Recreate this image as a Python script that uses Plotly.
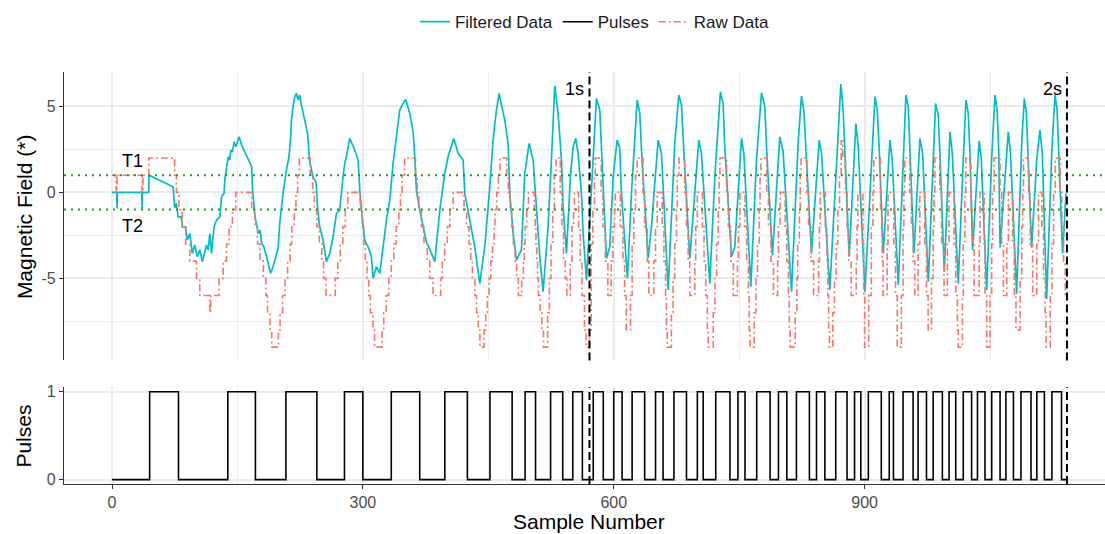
import plotly.graph_objects as go

# ---------------- data ----------------
# Filtered magnetometer signal (turning points, sample index / value)
filtered_sample = [
    0, 5.5, 6, 6.5, 35.5, 36, 36.5, 44, 44.3, 73, 75, 77, 79, 83, 84, 88, 90, 93, 96, 99,
    102, 105, 108, 113, 115, 117, 119, 122, 125, 129, 131, 134, 135, 137, 139, 141, 142, 144, 146, 148,
    152, 155, 167, 168, 171, 175, 177, 179, 181.5, 185, 189.5, 192.6, 198.6, 200.6, 204.5, 208.6, 211.7, 213.4, 214.6, 216.5,
    218.5, 220.5, 222.5, 224.5, 226.5, 234, 236, 240.5, 244, 246, 248.4, 252.4, 256.4, 260.4, 264.4, 268.4, 272.3, 276.3, 278.3, 280.3,
    284.3, 290.3, 294.3, 296.3, 298.3, 302.2, 306.2, 310.2, 312.2, 316.2, 320.2, 324.2, 328.2, 332.2, 336.1, 340.1, 344.1, 348.1, 351.3, 356.1,
    360.1, 362.1, 364, 368, 372, 376, 382, 386, 392, 397.9, 401.9, 405.9, 408.7, 413.9, 419.9, 421.9, 425.8, 429.8, 433.8, 439.8,
    445.8, 451.8, 455.7, 459.7, 462.9, 469.7, 473.7, 475.7, 479.7, 483.7, 489.6, 493.6, 498.8, 503.6, 507.6, 511.6, 515.5, 521.5, 525.5, 529.5,
    533.5, 537.5, 539.5, 543.5, 548.2, 551.4, 554.6, 557.4, 561.4, 563.4, 567.4, 573.4, 577.3, 579.3, 583.3, 585.3, 588.1, 591.3, 595.3, 599.3,
    604.1, 607.2, 609.2, 616.4, 621.2, 628, 631.2, 633.2, 641.1, 645.1, 653.1, 657.1, 665.1, 673, 677.8, 681, 683.8, 691, 701.7, 704.9,
    714.9, 720.9, 727.6, 730.8, 732.8, 740.8, 744.8, 752.8, 755.6, 763.9, 770.7, 776.7, 780.7, 782.7, 789.8, 798.6, 802.6, 812.6, 820.5, 824.5,
    827.3, 829.7, 836.5, 845.7, 848.5, 858.4, 866.4, 871.6, 874.4, 876.4, 881.6, 889.6, 892.4, 900.4, 908.4, 912.4, 915.2, 917.5, 922.3, 930.3,
    933.1, 940.3, 946.3, 949.4, 952.2, 954.2, 959, 966.2, 969.4, 976.2, 982.1, 984.9, 988.1, 990.1, 995.3, 1002.1, 1004.9, 1012, 1018, 1021.2,
    1024, 1026, 1029.2, 1037, 1039.5, 1046, 1052, 1055.9, 1058.5, 1060.5, 1062, 1069, 1071.8, 1074.5, 1081.8, 1088, 1091, 1093.5, 1095.5, 1099.7,
    1106, 1109.7, 1112.5, 1117.7, 1124, 1127.7, 1130.2, 1132.2, 1136.8, 1140.8,
]
filtered_value = [
    0, 0, -0.93, 0, 0, -0.93, 0, 0, 1.0, 0.33, -0.9, -0.64, -1.42, -1.42, -2.0, -2.0, -2.77, -2.4, -3.55, -3.06,
    -3.74, -3.35, -4.03, -3.06, -3.35, -2.4, -3.55, -2.0, -1.61, -1.42, -0.26, -0.06, 0.81, 1.49, 2.07, 1.88, 2.46, 2.36, 2.94, 2.65,
    3.23, 2.75, 1.49, 0.23, -1.42, -2.4, -2.19, -2.97, -3.16, -3.74, -4.7, -4.33, -3.26, -1.8, -0.06, 1.3, 2.07, 3.04, 4.2, 4.98,
    5.56, 5.76, 5.37, 5.66, 5.08, 3.4, 1.9, 0.85, 0.6, -1.03, -2.0, -2.77, -4.03, -3.55, -2.58, -1.22, -1.03, 0.91, 1.68, 2.07,
    3.14, 2.46, 1.88, 0.13, -1.03, -2.77, -3.16, -3.74, -5.0, -4.32, -4.71, -3.16, -1.61, -0.45, 1.68, 3.23, 4.79, 5.17, 5.40, 4.59,
    3.52, 2.07, 0.13, -1.03, -2.0, -2.87, -3.55, -4.03, -1.03, 1.10, 2.07, 2.65, 3.14, 2.27, 1.88, -0.06, -1.03, -2.0, -3.16, -5.29,
    -3.16, 0.33, 3.04, 4.79, 5.75, 4.2, 2.85, -0.06, -2.39, -3.94, -3.35, 1.10, 2.85, 1.88, -1.03, -3.74, -5.78, -2.0, 1.88, 6.2,
    4.59, 1.88, -0.84, -3.55, 0.91, 2.65, 3.14, 2.27, -0.06, -2.39, -5.1, -0.06, 3.82, 5.46, 4.79, 2.46, -1.03, -3.84, -3.16, 0.91,
    3.04, 2.56, -0.06, -5.0, -0.06, 5.37, 4.59, 2.46, -3.84, -2.0, 3.04, 2.27, -5.68, 2.85, 5.66, 5.08, 2.46, -3.84, 3.04, 2.27,
    -5.29, 0.91, 5.85, 5.17, 2.65, -3.74, -3.16, 3.14, 2.27, -5.49, 1.88, 5.79, 4.98, 2.65, -3.65, 3.23, 2.36, -5.78, 2.85, 5.60,
    4.79, 2.46, -3.55, 3.04, 2.27, -5.68, 1.88, 6.3, 4.79, 2.27, -3.74, 4.01, 2.65, -5.78, 1.88, 5.56, 4.79, 2.46, -3.55, 3.04,
    1.88, -5.39, 1.88, 5.66, 4.98, 2.27, -3.55, 3.14, 2.27, -5.2, 1.88, 5.17, 4.49, 2.27, -4.61, 3.52, 2.27, -5.29, 1.88, 5.37,
    4.59, 2.27, -3.35, 3.0, 2.0, -5.68, 2.0, 5.66, 4.8, 2.3, -3.2, 2.0, 3.52, 2.3, -5.9, 3.0, 5.46, 4.6, 2.3, -3.2,
    2.0, 3.62, 2.3, -6.2, 2.5, 5.66, 4.8, 2.5, -3.55, -0.06,
]

# Raw (quantised) signal: sample where the level changes / new level
raw_sample = [
    0, 5, 6, 36, 37, 44, 75, 77, 80, 84, 88, 93, 101, 105, 117, 118, 128, 133, 137, 140,
    144, 148, 167, 171, 174, 177, 181, 184, 186, 189, 191, 199, 201, 204, 207, 210, 213, 215, 218, 220,
    222, 224, 237, 240, 242, 245, 248, 251, 253, 256, 267, 270, 273, 276, 279, 282, 297, 299, 301, 303,
    305, 307, 309, 312, 314, 323, 325, 328, 331, 334, 337, 340, 343, 345, 347, 350, 363, 365, 367, 370,
    373, 377, 380, 384, 393, 395, 398, 401, 404, 408, 421, 424, 427, 429, 431, 434, 436, 438, 440, 445,
    447, 449, 451, 453, 455, 457, 458, 460, 462, 464, 472, 474, 476, 478, 480, 482, 484, 486, 490, 492,
    493, 494, 496, 498, 505, 506, 507, 508, 509, 510, 512, 514, 516, 521, 523, 525, 527, 529, 531, 536,
    538, 540, 542, 544, 548, 550, 552, 553, 558, 560, 562, 565, 567, 571, 573, 575, 577, 578, 585, 587,
    590, 593, 597, 599, 601, 602, 608, 611, 613, 615, 620, 622, 624, 626, 628, 635, 637, 640, 642, 648,
    650, 652, 658, 660, 662, 663, 664, 669, 671, 673, 675, 676, 678, 685, 687, 689, 691, 697, 698, 700,
    706, 708, 710, 712, 713, 719, 721, 723, 725, 726, 727, 735, 737, 740, 743, 748, 749, 751, 757, 759,
    761, 762, 763, 768, 770, 772, 774, 775, 776, 783, 785, 788, 791, 796, 797, 799, 805, 807, 809, 810,
    811, 817, 819, 820, 822, 823, 824, 831, 833, 836, 839, 845, 846, 847, 853, 855, 856, 857, 858, 862,
    864, 866, 868, 870, 872, 874, 877, 879, 881, 884, 890, 891, 892, 898, 899, 900, 905, 908, 910, 911,
    919, 921, 922, 927, 928, 935, 937, 939, 944, 946, 947, 948, 954, 956, 958, 960, 964, 966, 972, 974,
    976, 980, 982, 983, 984, 990, 992, 995, 999, 1001, 1007, 1009, 1011, 1012, 1017, 1018, 1020, 1021, 1027, 1029,
    1031, 1037, 1038, 1043, 1044, 1046, 1050, 1052, 1053, 1055, 1062, 1064, 1066, 1070, 1072, 1077, 1079, 1081, 1086, 1088,
    1089, 1090, 1096, 1098, 1101, 1106, 1108, 1112, 1114, 1116, 1117, 1122, 1124, 1126, 1128, 1134, 1136, 1138, 1140, 1142,
]
raw_value = [
    1, 0, 1, 0, 1, 2, 1, 0, -1, -2, -3, -4, -5, -6, -7, -6, -5, -4, -3, -2,
    -1, 0, -1, -2, -3, -4, -5, -6, -7, -8, -9, -8, -7, -6, -5, -4, -3, -2, -1, 0,
    1, 2, 1, 0, -1, -2, -3, -4, -5, -6, -5, -4, -3, -2, -1, 0, -1, -2, -3, -4,
    -5, -6, -7, -8, -9, -8, -7, -6, -5, -4, -3, -2, -1, 0, 1, 2, 1, 0, -1, -2,
    -3, -4, -5, -6, -5, -4, -3, -2, -1, 0, -1, -2, -3, -4, -5, -6, -7, -8, -9, -8,
    -7, -6, -5, -4, -3, -2, -1, 0, 1, 2, 1, 0, -1, -2, -3, -4, -5, -6, -5, -4,
    -3, -2, -1, 0, -1, -2, -3, -4, -5, -6, -7, -8, -9, -7, -5, -3, -1, 1, 2, 0,
    -2, -4, -5, -6, -4, -2, -1, 0, -2, -4, -6, -8, -9, -8, -3, -1, 1, 2, 0, -2,
    -4, -6, -4, -2, -1, 0, -2, -4, -6, -8, -6, -3, -1, 1, 2, 0, -2, -4, -6, -4,
    -2, 0, -2, -4, -6, -8, -9, -7, -5, -3, -1, 1, 2, 0, -2, -4, -6, -4, -2, 0,
    -2, -4, -6, -8, -9, -7, -5, -3, -1, 1, 2, 0, -2, -4, -6, -4, -2, 0, -2, -4,
    -6, -8, -9, -7, -5, -3, -1, 1, 2, 0, -2, -4, -6, -4, -2, 0, -2, -4, -6, -8,
    -9, -7, -5, -3, -1, 1, 2, 0, -2, -4, -6, -4, -2, 0, -2, -4, -6, -8, -9, -7,
    -5, -3, -1, 1, 3, 2, 0, -2, -4, -6, -4, -2, 0, -3, -6, -9, -6, -2, 0, 2,
    -1, -4, -6, -3, 0, -3, -6, -9, -6, -2, 0, 2, 0, -2, -4, -6, -3, 0, -3, -6,
    -8, -5, -2, 0, 2, 0, -3, -6, -3, 0, -3, -6, -8, -9, -6, -3, 0, 2, -1, -3,
    -6, -3, 0, -3, -6, -9, -6, -3, 0, 2, 0, -3, -6, -3, 0, -3, -6, -8, -5, -2,
    0, 2, 0, -3, -6, -3, 0, -2, -5, -7, -9, -6, -3, 0, 2, 0, -2, -4, -6, -6,
]

# Comparator output: sample where the state flips / new state
pulse_sample = [
    0, 45, 79.5, 138.5, 171.5, 208, 245, 278, 300, 334, 368, 398, 425, 452, 478.5, 494, 506.5, 524.5, 539, 551,
    562.5, 575.5, 587.5, 600, 610, 622, 637, 650, 659, 672, 687, 700, 707, 722, 739, 748.5, 757, 771, 787, 797,
    807, 818.5, 834, 842.5, 852.5, 865.5, 879, 888, 895.5, 904.5, 920, 929.5, 934.5, 946, 958, 964, 974, 982, 993, 1001,
    1009, 1018, 1028, 1035, 1044, 1052, 1062, 1069, 1078, 1087, 1099, 1106, 1115, 1124, 1135.5, 1142,
]
pulse_state = [
    0, 1, 0, 1, 0, 1, 0, 1, 0, 1, 0, 1, 0, 1, 0, 1, 0, 1, 0, 1,
    0, 1, 0, 1, 0, 1, 0, 1, 0, 1, 0, 1, 0, 1, 0, 1, 0, 1, 0, 1,
    0, 1, 0, 1, 0, 1, 0, 1, 0, 1, 0, 1, 0, 1, 0, 1, 0, 1, 0, 1,
    0, 1, 0, 1, 0, 1, 0, 1, 0, 1, 0, 1, 0, 1, 0, 0,
]

T1 = 1.0            # upper comparator threshold
T2 = -1.0           # lower comparator threshold
second_marks = [571, 1142]   # samples at 1 s and 2 s
second_labels = ["1s", "2s"]

x_ticks = [0, 300, 600, 900]
x_minor = [150, 450, 750, 1050]

# ---------------- figure ----------------
FONT = "Liberation Sans, Arial, Helvetica, sans-serif"
CYAN = "#00BFC4"
SALMON = "#F8766D"
GRID = "#EBEBEB"
AXIS = "#333333"
TICKC = "#4D4D4D"
XRANGE = [-57.4, 1187.5]

fig = go.Figure()

fig.add_trace(go.Scatter(
    x=filtered_sample, y=filtered_value, mode="lines", name="Filtered Data",
    line=dict(color=CYAN, width=1.7), xaxis="x", yaxis="y",
))
fig.add_trace(go.Scatter(
    x=pulse_sample, y=pulse_state, mode="lines", name="Pulses",
    line=dict(color="black", width=1.6, shape="hv"), xaxis="x2", yaxis="y2",
))
fig.add_trace(go.Scatter(
    x=raw_sample, y=raw_value, mode="lines", name="Raw Data",
    line=dict(color=SALMON, width=1.6, shape="hv", dash="7px,3px,2px,3px"),
    xaxis="x", yaxis="y",
))

shapes = []
# comparator thresholds
for t in (T1, T2):
    shapes.append(dict(type="line", xref="x domain", yref="y", x0=0, x1=1, y0=t, y1=t,
                       line=dict(color="#229A22", width=2, dash="2px,5px"), layer="above"))
# 1 s / 2 s markers on both panels
for xm in second_marks:
    for xr, yr in (("x", "y domain"), ("x2", "y2 domain")):
        shapes.append(dict(type="line", xref=xr, yref=yr, x0=xm, x1=xm, y0=0, y1=1,
                           line=dict(color="black", width=2, dash="8px,4px"), layer="above"))

LABEL = dict(size=18, color="black", family=FONT)
TITLE = dict(size=21, color="black", family=FONT)
annotations = [
    dict(text="T1", x=24, y=1.85, xref="x", yref="y", showarrow=False, font=LABEL),
    dict(text="T2", x=25, y=-1.95, xref="x", yref="y", showarrow=False, font=LABEL),
    dict(text=second_labels[0], x=second_marks[0] - 4, y=6.0, xref="x", yref="y", showarrow=False,
         xanchor="right", font=LABEL),
    dict(text=second_labels[1], x=second_marks[1] - 4, y=6.0, xref="x", yref="y", showarrow=False,
         xanchor="right", font=LABEL),
    dict(text="Magnetic Field (*)", x=-0.0385, y=0.65, xref="paper", yref="paper",
         textangle=-90, showarrow=False, xanchor="center", yanchor="middle", font=TITLE),
    dict(text="Pulses", x=-0.0385, y=0.1173, xref="paper", yref="paper",
         textangle=-90, showarrow=False, xanchor="center", yanchor="middle", font=TITLE),
    dict(text="Sample Number", x=0.5047, y=-0.092, xref="paper", yref="paper",
         showarrow=False, xanchor="center", yanchor="middle", font=TITLE),
]

grid_minor = dict(showgrid=True, gridcolor=GRID, gridwidth=1.0, ticks="")
TICKFONT = dict(size=16, color=TICKC, family=FONT)

fig.update_layout(
    width=1105, height=534,
    margin=dict(l=64, r=0, t=72, b=50, autoexpand=False),
    paper_bgcolor="white", plot_bgcolor="white",
    font=dict(family=FONT, color=TICKC, size=14),
    showlegend=True,
    legend=dict(orientation="h", x=0.51, xanchor="center", y=1.121, yanchor="middle",
                font=dict(size=17, color="#1A1A1A", family=FONT), bgcolor="rgba(0,0,0,0)",
                traceorder="normal"),
    xaxis=dict(domain=[0, 1], anchor="y", range=XRANGE, showticklabels=False, ticks="",
               tickvals=x_ticks, showgrid=True, gridcolor=GRID, gridwidth=1.6, zeroline=False,
               showline=False, minor=dict(tickvals=x_minor, **grid_minor)),
    yaxis=dict(domain=[0.300, 1], anchor="x", range=[-9.77, 7.0], tickvals=[-5, 0, 5],
               ticktext=["-5", "0", "5"], ticks="outside", ticklen=4, tickcolor=AXIS,
               showgrid=True, gridcolor=GRID, gridwidth=1.6, zeroline=False,
               showline=True, linecolor=AXIS, linewidth=1.2, tickfont=TICKFONT,
               minor=dict(tickvals=[-7.5, -2.5, 2.5], **grid_minor)),
    xaxis2=dict(domain=[0, 1], anchor="y2", range=XRANGE, tickvals=x_ticks,
                ticktext=[str(v) for v in x_ticks], ticks="outside", ticklen=4, tickcolor=AXIS,
                showgrid=True, gridcolor=GRID, gridwidth=1.6, zeroline=False,
                showline=True, linecolor=AXIS, linewidth=1.2, tickfont=TICKFONT,
                minor=dict(tickvals=x_minor, **grid_minor)),
    yaxis2=dict(domain=[0, 0.2347], anchor="x2", range=[-0.05, 1.05], tickvals=[0, 1],
                ticktext=["0", "1"], ticks="outside", ticklen=4, tickcolor=AXIS,
                showgrid=True, gridcolor=GRID, gridwidth=1.6, zeroline=False,
                showline=True, linecolor=AXIS, linewidth=1.2, tickfont=TICKFONT),
    shapes=shapes,
    annotations=annotations,
)

fig.write_html("out.html")
